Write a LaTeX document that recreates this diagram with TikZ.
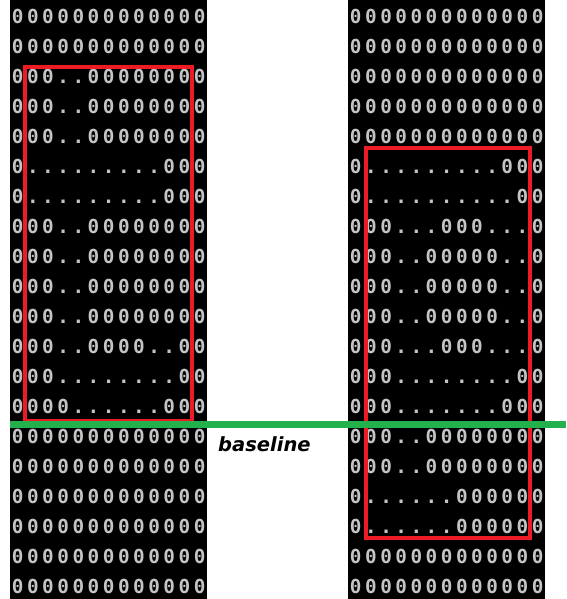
\documentclass[tikz,border=0pt]{standalone}
\usepackage{fontspec}
\newfontfamily\consolefont{DejaVu Sans Mono}
\newfontfamily\labelfont{DejaVu Sans}
\definecolor{glyphgray}{HTML}{C4C4C4}
\definecolor{paintred}{HTML}{ED1C24}
\definecolor{paintgreen}{HTML}{22B14C}
% d stands for a dot in the row codes
\newcommand\cellrow[1]{\expandafter\cellrowi#1\relax}
\def\cellrowi#1{\ifx#1\relax\else\makebox[15.15pt]{\ifx d#1.\else#1\fi}\expandafter\cellrowi\fi}
\tikzset{
  panel/.style={fill=black},
  rowtext/.style={inner sep=0pt, anchor=base west, text=glyphgray,
    font=\consolefont\bfseries\fontsize{19.3}{19.3}\selectfont},
  redbox/.style={draw=paintred, line width=3.6pt},
  greenline/.style={draw=paintgreen, line width=6.6pt},
  labeltext/.style={inner sep=0pt, anchor=base west, text=black,
    font=\labelfont\bfseries\itshape\fontsize{19.5}{19.5}\selectfont}
}
\begin{document}
\begin{tikzpicture}[x=1pt,y=-1pt]
\useasboundingbox (0,0) rectangle (566,599);
\fill[panel] (10,0) rectangle (207,599);
\fill[panel] (348,0) rectangle (545,599);
\foreach \s [count=\i] in {0000000000000,0000000000000,000dd00000000,000dd00000000,000dd00000000,0ddddddddd000,0ddddddddd000,000dd00000000,000dd00000000,000dd00000000,000dd00000000,000dd0000dd00,000dddddddd00,0000dddddd000,0000000000000,0000000000000,0000000000000,0000000000000,0000000000000,0000000000000}
  \node[rowtext] (L\i) at (10,{23.6+(\i-1)*30.0}) {\cellrow{\s}};
\foreach \s [count=\i] in {0000000000000,0000000000000,0000000000000,0000000000000,0000000000000,0ddddddddd000,0dddddddddd00,000ddd000ddd0,000dd00000dd0,000dd00000dd0,000dd00000dd0,000ddd000ddd0,000dddddddd00,000ddddddd000,000dd00000000,000dd00000000,0dddddd000000,0dddddd000000,0000000000000,0000000000000}
  \node[rowtext] (R\i) at (348,{23.6+(\i-1)*30.0}) {\cellrow{\s}};
\draw[redbox] (25,67) rectangle (192,421);
\draw[redbox] (366,148) rectangle (530,538);
\coordinate (gl) at (10,424.5);
\coordinate (gr) at (566,424.5);
\draw[greenline] (gl) -- (gr);
\node[labeltext] (base) at (218,451.7) {baseline};
\end{tikzpicture}
\end{document}
